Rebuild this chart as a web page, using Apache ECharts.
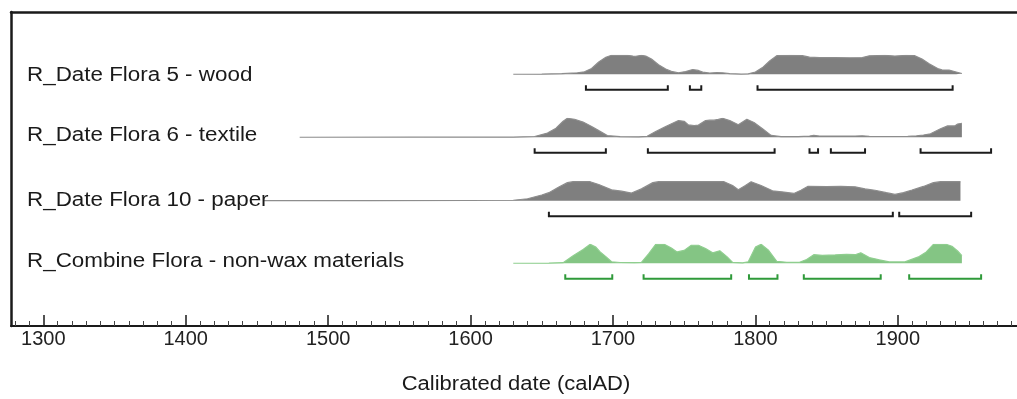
<!DOCTYPE html>
<html>
<head>
<meta charset="utf-8">
<script src="https://cdn.jsdelivr.net/npm/echarts@6/dist/echarts.min.js"></script>
<style>
  html, body { margin: 0; padding: 0; background: #ffffff; }
  #chart { width: 1017px; height: 399px; }
</style>
</head>
<body>
<div id="chart"></div>
<script>
// ---------------- DATA ----------------
const rowLabels = [
  'R_Date Flora 5 - wood',
  'R_Date Flora 6 - textile',
  'R_Date Flora 10 - paper',
  'R_Combine Flora - non-wax materials'
];
const axisTitle = 'Calibrated date (calAD)';
const tickYears = [1300, 1400, 1500, 1600, 1700, 1800, 1900];

// relative probability density [calAD, relative height]
const woodDensity = [
  [1630,0],[1650,0.01],[1664,0.03],[1675,0.08],[1680,0.13],[1685,0.3],[1690,0.65],[1695,0.9],[1699,1.0],
  [1710,1.0],[1714,0.96],[1716,0.95],[1720,1.0],[1723,0.96],[1727,0.8],[1732,0.5],[1737,0.28],[1741,0.15],
  [1746,0.08],[1751,0.14],[1756,0.25],[1760,0.2],[1763,0.11],[1768,0.06],[1773,0.09],[1777,0.08],[1782,0.03],
  [1790,0.01],[1795,0.02],[1800,0.12],[1805,0.35],[1810,0.7],[1815,0.98],[1825,1.0],[1833,0.98],[1838,0.9],
  [1845,0.88],[1856,0.88],[1866,0.87],[1875,0.88],[1880,0.97],[1891,1.0],[1898,0.96],[1906,1.0],[1912,0.98],
  [1917,0.8],[1922,0.55],[1928,0.3],[1931,0.23],[1936,0.22],[1941,0.12],[1945,0.04]
];
const textileDensity = [
  [1480,0],[1560,0.004],[1630,0.01],[1645,0.04],[1654,0.22],[1660,0.48],[1665,0.85],[1668,1.0],[1673,0.95],
  [1679,0.8],[1685,0.57],[1690,0.35],[1696,0.09],[1705,0.03],[1718,0.02],[1724,0.05],[1730,0.3],[1737,0.57],
  [1746,0.88],[1750,0.84],[1753,0.65],[1757,0.62],[1760,0.64],[1765,0.88],[1768,0.9],[1771,0.9],[1774,0.94],
  [1777,1.0],[1782,0.88],[1788,0.66],[1794,0.95],[1799,0.78],[1805,0.45],[1811,0.1],[1818,0.03],[1830,0.03],
  [1838,0.06],[1841,0.1],[1845,0.06],[1860,0.06],[1870,0.06],[1875,0.08],[1880,0.05],[1895,0.04],[1907,0.05],
  [1913,0.07],[1918,0.12],[1923,0.18],[1930,0.45],[1935,0.6],[1940,0.6],[1942,0.7],[1945,0.74]
];
const paperDensity = [
  [1455,0],[1530,0.003],[1600,0.008],[1630,0.02],[1640,0.1],[1650,0.3],[1655,0.42],[1662,0.72],[1668,0.95],
  [1672,1.0],[1684,1.0],[1690,0.85],[1699,0.57],[1706,0.5],[1713,0.4],[1720,0.62],[1728,0.95],[1732,1.0],
  [1765,1.0],[1778,1.0],[1784,0.8],[1788,0.58],[1793,0.8],[1797,1.0],[1804,0.8],[1812,0.52],[1820,0.45],
  [1827,0.38],[1832,0.55],[1837,0.76],[1850,0.74],[1860,0.75],[1870,0.73],[1877,0.62],[1884,0.55],[1892,0.42],
  [1898,0.33],[1904,0.42],[1910,0.56],[1918,0.75],[1925,0.95],[1930,1.0],[1944,1.0]
];
const combineDensity = [
  [1630,0],[1655,0.01],[1665,0.03],[1672,0.4],[1679,0.73],[1684,1.0],[1688,0.85],[1691,0.6],[1695,0.35],
  [1699,0.08],[1705,0.04],[1715,0.03],[1720,0.05],[1725,0.5],[1730,1.0],[1736,1.0],[1741,0.8],[1745,0.6],
  [1750,0.68],[1755,0.95],[1760,0.95],[1765,0.78],[1770,0.55],[1775,0.66],[1780,0.35],[1784,0.05],[1791,0.02],
  [1795,0.08],[1800,0.85],[1804,1.0],[1809,0.7],[1815,0.1],[1822,0.05],[1831,0.05],[1836,0.2],[1841,0.45],
  [1847,0.42],[1856,0.44],[1864,0.47],[1870,0.45],[1874,0.55],[1880,0.3],[1887,0.18],[1894,0.07],[1905,0.07],
  [1915,0.35],[1920,0.6],[1925,1.0],[1934,1.0],[1938,0.9],[1942,0.65],[1945,0.4]
];

// highest-probability ranges [from, to] calAD
const woodRanges = [[1681,1738.5],[1754,1762],[1801.5,1938.5]];
const textileRanges = [[1645,1695],[1724.5,1813.5],[1838,1844],[1853,1877],[1916,1965.5]];
const paperRanges = [[1655,1896.5],[1901,1951.5]];
const combineRanges = [[1666.5,1699.5],[1721.5,1783],[1795.5,1815.5],[1834,1888],[1908,1958.5]];

// ---------------- LAYOUT / STYLE ----------------
const X_MIN = 1277.3, X_MAX = 1983.7;
const GRID_LEFT = 11, GRID_RIGHT = 0;
const rowTops = [55.3, 118.3, 181.7, 244.3];
const ROW_H = 36, Y_MIN = -0.9, Y_MAX = 1, BR_Y = -0.82;
const labelY = [75.3, 135.9, 200.3, 261.4];

const densities = [woodDensity, textileDensity, paperDensity, combineDensity];
const ranges = [woodRanges, textileRanges, paperRanges, combineRanges];
const fills = ['#7f7f7f', '#7f7f7f', '#7f7f7f', '#84c584'];
const lines = ['#8d8d8d', '#8d8d8d', '#8d8d8d', '#8fce8f'];
const brackets = ['#1c1c1c', '#1c1c1c', '#1c1c1c', '#2f9a3a'];

const minorTicks = [];
for (let y = 1280; y < X_MAX; y += 10) if (y % 100 !== 0) minorTicks.push(y);

const FONT = '"Liberation Sans", Arial, sans-serif';

const gridBase = { left: GRID_LEFT, right: GRID_RIGHT, containLabel: false, outerBoundsMode: 'none' };
const grids = [Object.assign({}, gridBase, { top: 12, bottom: 73 })];
const xAxes = [
  { type: 'value', gridIndex: 0, min: X_MIN, max: X_MAX, position: 'bottom',
    axisLine: { show: true, lineStyle: { color: '#1a1a1a', width: 2 } },
    axisTick: { show: true, inside: true, length: 11, customValues: tickYears, lineStyle: { color: '#1a1a1a', width: 1.5 } },
    axisLabel: { show: true, customValues: tickYears, margin: 3, fontSize: 20, fontFamily: FONT, color: '#222',
      formatter: v => String(v) },
    splitLine: { show: false } },
  { type: 'value', gridIndex: 0, min: X_MIN, max: X_MAX, position: 'bottom',
    axisLine: { show: false },
    axisTick: { show: true, inside: true, length: 5, customValues: minorTicks, lineStyle: { color: '#444', width: 1 } },
    axisLabel: { show: false }, splitLine: { show: false } },
  { type: 'value', gridIndex: 0, min: X_MIN, max: X_MAX, position: 'top',
    axisLine: { show: true, lineStyle: { color: '#1a1a1a', width: 2.5 } },
    axisTick: { show: false }, axisLabel: { show: false }, splitLine: { show: false } }
];
const yAxes = [
  { type: 'value', gridIndex: 0, min: 0, max: 1, position: 'left',
    axisLine: { show: true, lineStyle: { color: '#1a1a1a', width: 2.5 } },
    axisTick: { show: false }, axisLabel: { show: false }, splitLine: { show: false } }
];
const series = [];

rowTops.forEach((top, i) => {
  grids.push(Object.assign({}, gridBase, { top: top, height: ROW_H }));
  const gi = i + 1;
  xAxes.push({ type: 'value', gridIndex: gi, min: X_MIN, max: X_MAX, show: false, splitLine: { show: false } });
  yAxes.push({ type: 'value', gridIndex: gi, min: Y_MIN, max: Y_MAX, show: false, splitLine: { show: false } });
  const xi = xAxes.length - 1, yi = yAxes.length - 1;
  series.push({
    type: 'line', xAxisIndex: xi, yAxisIndex: yi, data: densities[i],
    showSymbol: false, smooth: false, silent: true,
    lineStyle: { color: lines[i], width: 1.2 },
    areaStyle: { color: fills[i], opacity: 1 }
  });
  const col = brackets[i];
  series.push({
    type: 'custom', xAxisIndex: xi, yAxisIndex: yi, data: ranges[i], silent: true,
    encode: { x: [0, 1] },
    renderItem: (params, api) => {
      const a = api.coord([api.value(0), BR_Y]);
      const b = api.coord([api.value(1), BR_Y]);
      return {
        type: 'polyline',
        shape: { points: [[a[0], a[1] - 4.5], [a[0], a[1]], [b[0], b[1]], [b[0], b[1] - 4.5]] },
        style: { stroke: col, lineWidth: 2, fill: null }
      };
    }
  });
});

const graphics = rowLabels.map((t, i) => ({
  type: 'text', x: 27, y: labelY[i], scaleX: 1.12, z: 10,
  style: { text: t, fontSize: 20, fontFamily: FONT, fill: '#1a1a1a', align: 'left', verticalAlign: 'middle' }
}));
graphics.push({
  type: 'text', x: 516, y: 384, scaleX: 1.1,
  style: { text: axisTitle, fontSize: 20, fontFamily: FONT, fill: '#1a1a1a', align: 'center', verticalAlign: 'middle' }
});

const chart = echarts.init(document.getElementById('chart'), null, { renderer: 'canvas' });
chart.setOption({
  animation: false,
  backgroundColor: '#ffffff',
  grid: grids,
  xAxis: xAxes,
  yAxis: yAxes,
  series: series,
  graphic: graphics
});
</script>
</body>
</html>
